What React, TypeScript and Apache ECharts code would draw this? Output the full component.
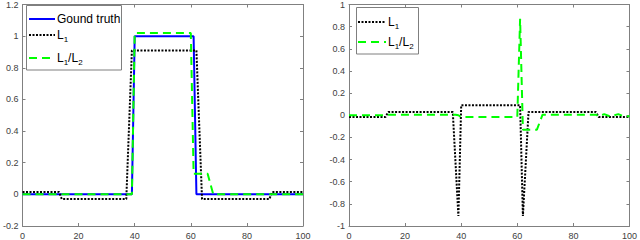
import React, { useEffect, useRef } from "react";
import * as echarts from "echarts";

// Left panel: reconstructed signals (breakpoints, linear between them)
const truthX = [0, 39, 40, 61, 62, 100];
const truthY = [0, 0, 1, 1, 0, 0];
const l1X = [0, 13, 14, 37, 39, 62, 64, 88, 89, 100];
const l1Y = [0.015, 0.015, -0.03, -0.03, 0.91, 0.91, -0.03, -0.03, 0.015, 0.015];
const l1l2X = [0, 39, 40, 60, 61, 66, 68, 100];
const l1l2Y = [0, 0, 1.02, 1.02, 0.13, 0.13, 0, 0];

// Right panel: errors
const errL1X = [0, 13, 14, 37, 39, 40, 61, 62, 64, 88, 89, 100];
const errL1Y = [-0.015, -0.015, 0.03, 0.03, -0.91, 0.09, 0.09, -0.91, 0.03, 0.03, -0.015, -0.015];
const errL1L2X = [0, 13, 14, 38, 39, 40, 60, 61, 62, 67, 69, 88, 89, 91, 93, 96, 98, 100];
const errL1L2Y = [0, 0, 0.005, 0.005, 0, -0.015, -0.015, 0.87, -0.13, -0.13, 0.005, 0.005, -0.01, 0.01, -0.01, 0.01, -0.01, -0.01];

const legendLeft = ["Gound truth", "L1", "L1/L2"];
const legendRight = ["L1", "L1/L2"];

const FONT = "Liberation Sans, Arial, Helvetica, sans-serif";
const AX = "#808080";
const LBL = "#404040";
const BLUE = "#0000ff";
const BLACK = "#000000";
const GREEN = "#00ff00";
const DOT = [2, 1.5];
const DASH = [8, 5];

const zip = (xs: number[], ys: number[]) => xs.map((x, i) => [x, ys[i]]);

function xAx(grid: number, pos: "bottom" | "top") {
  return {
    gridIndex: grid,
    type: "value",
    min: 0,
    max: 100,
    interval: 20,
    position: pos,
    axisLine: { show: true, onZero: false, lineStyle: { color: AX, width: 1 } },
    axisTick: { show: true, inside: true, length: 3, lineStyle: { color: AX } },
    axisLabel: {
      show: pos === "bottom",
      fontSize: 9,
      color: LBL,
      fontFamily: FONT,
      margin: 5,
    },
    splitLine: { show: false },
  };
}

function yAx(grid: number, pos: "left" | "right", min: number, max: number) {
  return {
    gridIndex: grid,
    type: "value",
    min,
    max,
    interval: 0.2,
    position: pos,
    axisLine: { show: true, onZero: false, lineStyle: { color: AX, width: 1 } },
    axisTick: { show: true, inside: true, length: 3, lineStyle: { color: AX } },
    axisLabel: {
      show: pos === "left",
      fontSize: 9,
      color: LBL,
      fontFamily: FONT,
      margin: 4,
      formatter: (v: number) => String(Math.round(v * 10) / 10),
    },
    splitLine: { show: false },
  };
}

function lineSeries(name: string, xi: number, data: number[][], color: string, type: any) {
  return {
    name,
    type: "line",
    xAxisIndex: xi,
    yAxisIndex: xi,
    data,
    showSymbol: false,
    symbol: "none",
    lineStyle: { color, width: 2, type },
    silent: true,
  };
}

const rich = {
  a: { fontSize: 12, fontFamily: FONT, color: "#000", lineHeight: 16, verticalAlign: "middle" },
  b: { fontSize: 8, fontFamily: FONT, color: "#000", lineHeight: 8, verticalAlign: "bottom" },
};

function richLabel(s: string) {
  if (s === "L1") return "{a|L}{b|1}";
  if (s === "L1/L2") return "{a|L}{b|1}{a|/L}{b|2}";
  return "{a|" + s + "}";
}

function legendGraphics(
  box: [number, number, number, number],
  x0: number,
  x1: number,
  ys: number[],
  labels: string[],
  styles: { color: string; dash: number[] | null }[]
) {
  const els: any[] = [
    {
      type: "rect",
      z: 100,
      shape: { x: box[0], y: box[1], width: box[2], height: box[3] },
      style: { fill: "#fff", stroke: "#7f7f7f", lineWidth: 1 },
    },
  ];
  labels.forEach((lab, i) => {
    els.push({
      type: "line",
      z: 101,
      shape: { x1: x0, y1: ys[i], x2: x1, y2: ys[i] },
      style: { stroke: styles[i].color, lineWidth: 2, lineDash: styles[i].dash || undefined },
    });
    els.push({
      type: "text",
      z: 101,
      x: x1 + 2,
      y: ys[i],
      style: {
        text: richLabel(lab),
        rich,
        verticalAlign: "middle",
        align: "left",
        fill: "#000",
        font: "12px " + FONT,
      },
    });
  });
  return els;
}

export default function App() {
  const ref = useRef<HTMLDivElement>(null);
  useEffect(() => {
    const chart = echarts.init(ref.current!, null, { renderer: "svg" });
    const option: any = {
      animation: false,
      backgroundColor: "#fff",
      grid: [
        { left: 19, right: 337, top: 4, bottom: 14, containLabel: false },
        { left: 349, right: 7, top: 4, bottom: 14, containLabel: false },
      ],
      xAxis: [xAx(0, "bottom"), xAx(0, "top"), xAx(1, "bottom"), xAx(1, "top")],
      yAxis: [
        yAx(0, "left", -0.2, 1.2),
        yAx(0, "right", -0.2, 1.2),
        yAx(1, "left", -1, 1),
        yAx(1, "right", -1, 1),
      ],
      series: [
        lineSeries("Gound truth", 0, zip(truthX, truthY), BLUE, "solid"),
        lineSeries("L1", 0, zip(l1X, l1Y), BLACK, DOT),
        lineSeries("L1/L2", 0, zip(l1l2X, l1l2Y), GREEN, DASH),
        lineSeries("L1 error", 2, zip(errL1X, errL1Y), BLACK, DOT),
        lineSeries("L1/L2 error", 2, zip(errL1L2X, errL1L2Y), GREEN, DASH),
      ],
      graphic: [
        ...legendGraphics([26.5, 5.5, 95, 64.5], 29, 55, [19, 35, 58], legendLeft, [
          { color: BLUE, dash: null },
          { color: BLACK, dash: DOT },
          { color: GREEN, dash: DASH },
        ]),
        ...legendGraphics([356.5, 7.5, 62, 46.5], 358, 386, [22, 42], legendRight, [
          { color: BLACK, dash: DOT },
          { color: GREEN, dash: DASH },
        ]),
      ],
    };
    chart.setOption(option);
    return () => chart.dispose();
  }, []);
  return (
    <div
      ref={ref}
      style={{ position: "fixed", left: 0, top: 0, width: 640, height: 240 }}
    />
  );
}
